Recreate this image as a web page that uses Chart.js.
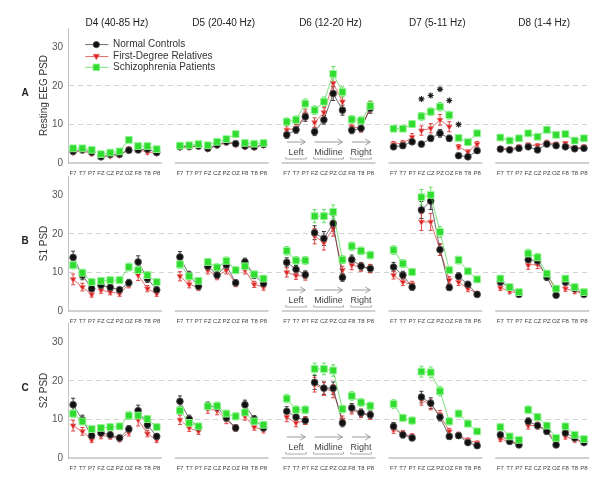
<!DOCTYPE html>
<html>
<head>
<meta charset="utf-8">
<script src="https://cdn.jsdelivr.net/npm/chart.js@4.4.1/dist/chart.umd.min.js"></script>
<style>
  body { margin: 0; background: #fff; }
  #wrap { position: relative; width: 600px; height: 493px; overflow: hidden; }
  .row { position: absolute; left: 0; width: 600px; height: 185px; }
</style>
</head>
<body>
<div id="wrap">
  <div class="row" style="top:0px"><canvas id="rowA" width="600" height="185"></canvas></div>
  <div class="row" style="top:148px"><canvas id="rowB" width="600" height="185"></canvas></div>
  <div class="row" style="top:295px"><canvas id="rowC" width="600" height="185"></canvas></div>
</div>
<script>
'use strict';

// ***** GLOBALS ******
const electrodes = ['F7', 'T7', 'P7', 'FZ', 'CZ', 'PZ', 'OZ', 'F8', 'T8', 'P8'];
const bands = ['D4 (40-85 Hz)', 'D5 (20-40 Hz)', 'D6 (12-20 Hz)', 'D7 (5-11 Hz)', 'D8 (1-4 Hz)'];
const regions = ['Left', 'Midline', 'Right'];
const regionRanges = [[0, 2], [3, 6], [7, 9]];
const groupNames = ['Normal Controls', 'First-Degree Relatives', 'Schizophrenia Patients'];
const yTicks = [0, 10, 20, 30];
const dashedLines = [10, 20];

// values go D4, D5, D6, D7, D8 and each band F7 ... P8
const restControls = [
  3.0, 3.4, 2.8, 1.6, 2.2, 2.3, 3.3, 3.4, 3.6, 2.7,
  4.2, 4.3, 4.4, 3.8, 4.7, 5.5, 5.0, 4.4, 4.2, 4.8,
  7.3, 8.6, 12.0, 8.1, 11.2, 18.0, 13.7, 8.5, 9.0, 14.2,
  4.2, 4.5, 5.5, 4.9, 6.4, 7.7, 6.4, 1.9, 1.6, 3.2,
  3.6, 3.4, 3.8, 4.2, 3.4, 4.9, 4.5, 4.2, 3.7, 3.8
];
const restRelatives = [
  2.7, 3.2, 2.4, 1.6, 1.8, 2.0, 3.6, 3.5, 2.8, 2.5,
  4.0, 4.1, 4.3, 3.6, 4.5, 5.3, 4.8, 4.2, 4.0, 4.6,
  8.6, 9.0, 12.5, 10.5, 13.1, 20.7, 15.9, 9.4, 9.0, 14.6,
  4.9, 5.1, 6.7, 8.4, 9.0, 11.2, 9.4, 4.2, 2.9, 4.9,
  3.8, 3.6, 4.2, 4.7, 4.5, 5.3, 4.9, 5.1, 3.8, 4.2
];
const restPatients = [
  3.8, 3.8, 3.4, 2.3, 2.7, 3.0, 6.0, 4.4, 4.4, 3.6,
  4.5, 4.6, 4.9, 4.6, 5.5, 6.2, 7.5, 5.2, 5.0, 5.2,
  10.7, 11.2, 15.4, 13.7, 15.9, 23.1, 18.4, 11.3, 11.0, 14.8,
  8.9, 8.9, 10.1, 12.1, 13.3, 14.6, 12.4, 6.5, 5.4, 7.7,
  6.6, 5.8, 6.4, 7.7, 6.8, 8.6, 7.3, 7.5, 5.8, 6.4
];
// asterisks over D7 FZ, CZ, PZ, OZ, F8
const restStarBand = 3;
const restStarElectrodes = [3, 4, 5, 6, 7];
const restStars = [16.6, 17.5, 19.1, 16.2, 10.0];

const s1Controls = [
  13.9, 9.3, 5.8, 6.7, 6.1, 5.5, 7.3, 12.7, 8.4, 5.5,
  14.0, 9.3, 6.4, 11.6, 9.3, 11.9, 7.3, 12.7, 9.3, 7.1,
  12.6, 10.8, 9.4, 20.3, 18.8, 22.7, 8.7, 13.3, 11.6, 11.0,
  11.4, 9.3, 6.2, 26.2, 28.5, 15.9, 6.1, 9.0, 6.9, 4.3,
  7.5, 6.1, 4.3, 13.3, 13.0, 8.8, 4.1, 7.5, 5.8, 4.3
];
const s1Relatives = [
  8.2, 6.2, 4.3, 5.4, 4.9, 4.5, 6.9, 9.3, 5.8, 4.5,
  9.0, 6.9, 6.1, 10.6, 9.0, 10.6, 7.1, 10.6, 6.9, 6.2,
  10.0, 9.2, 9.0, 19.4, 17.7, 21.4, 10.6, 11.9, 11.4, 11.0,
  9.3, 7.5, 6.9, 23.1, 23.1, 15.9, 8.0, 7.5, 5.8, 4.5,
  6.0, 5.1, 4.5, 11.9, 12.1, 9.3, 5.6, 5.8, 5.1, 4.5
];
const s1Patients = [
  11.9, 9.9, 7.5, 7.8, 8.0, 8.0, 11.4, 10.6, 9.3, 7.5,
  12.1, 9.0, 7.8, 12.7, 11.3, 13.0, 10.6, 11.6, 9.5, 8.4,
  15.6, 13.1, 13.1, 24.6, 24.6, 25.7, 13.3, 16.8, 15.6, 14.5,
  15.8, 12.3, 10.1, 29.5, 30.1, 20.5, 10.6, 13.2, 10.3, 8.2,
  8.4, 6.2, 4.9, 14.9, 13.9, 9.7, 5.8, 8.4, 6.2, 4.9
];

const s2Controls = [
  13.8, 9.9, 5.8, 6.5, 6.0, 5.2, 7.5, 12.3, 8.6, 5.6,
  14.7, 10.1, 8.0, 13.5, 13.2, 10.4, 7.8, 13.8, 10.1, 7.8,
  12.1, 10.6, 9.7, 19.6, 18.1, 18.1, 9.1, 13.0, 11.7, 11.2,
  8.2, 6.0, 5.2, 15.8, 14.2, 10.6, 5.6, 5.8, 4.0, 3.2,
  6.0, 4.3, 3.4, 9.5, 8.4, 6.9, 3.4, 6.5, 5.2, 4.0
];
const s2Relatives = [
  8.4, 6.9, 4.7, 5.8, 5.6, 4.9, 6.6, 9.9, 6.3, 4.7,
  9.9, 7.8, 6.9, 12.7, 12.3, 9.9, 7.8, 10.8, 8.0, 7.3,
  10.6, 9.1, 9.7, 19.0, 17.9, 17.3, 9.9, 12.5, 11.5, 11.0,
  7.3, 6.3, 5.6, 15.1, 13.8, 11.2, 6.9, 6.0, 4.6, 3.9,
  4.9, 4.3, 3.7, 8.4, 8.4, 7.3, 4.0, 5.6, 4.7, 4.0
];
const s2Patients = [
  11.5, 9.5, 7.5, 7.8, 8.0, 8.2, 11.0, 11.0, 10.1, 8.0,
  12.3, 9.1, 8.2, 13.4, 13.5, 11.5, 10.8, 11.8, 9.5, 8.6,
  15.4, 12.5, 12.5, 23.1, 23.1, 22.7, 12.7, 16.1, 14.4, 13.5,
  14.0, 10.4, 9.7, 22.4, 22.2, 17.3, 9.5, 11.5, 8.9, 6.9,
  8.0, 5.6, 4.7, 12.5, 10.6, 8.4, 5.2, 8.2, 6.0, 4.9
];

// standard errors, same order
const restControlsErr = [
  0.6, 0.5, 0.5, 0.4, 0.5, 0.5, 0.6, 0.6, 0.9, 0.5,
  0.5, 0.5, 0.5, 0.5, 0.5, 0.6, 0.6, 0.5, 0.5, 0.5,
  0.9, 0.9, 1.2, 1.0, 1.1, 1.8, 1.3, 0.9, 0.9, 1.3,
  0.6, 0.6, 0.7, 0.7, 0.8, 1.0, 0.8, 0.4, 0.4, 0.5,
  0.5, 0.5, 0.5, 0.5, 0.5, 0.6, 0.5, 0.5, 0.5, 0.5
];
const restRelativesErr = [
  0.5, 0.5, 0.5, 0.4, 0.4, 0.5, 0.6, 0.6, 0.5, 0.5,
  0.5, 0.5, 0.5, 0.5, 0.5, 0.6, 0.6, 0.5, 0.5, 0.5,
  1.0, 1.0, 1.3, 1.2, 1.3, 2.0, 1.5, 1.0, 1.0, 1.4,
  0.7, 0.7, 0.9, 1.2, 1.2, 1.4, 1.3, 0.6, 0.5, 0.7,
  0.5, 0.5, 0.5, 0.5, 0.5, 0.6, 0.5, 0.5, 0.5, 0.5
];
const restPatientsErr = [
  0.5, 0.5, 0.5, 0.4, 0.4, 0.5, 0.7, 0.6, 0.6, 0.5,
  0.5, 0.5, 0.5, 0.5, 0.6, 0.6, 0.7, 0.5, 0.5, 0.5,
  1.0, 1.0, 1.2, 1.1, 1.2, 1.9, 1.3, 1.0, 1.0, 1.3,
  0.8, 0.8, 0.9, 1.0, 1.0, 1.1, 1.0, 0.7, 0.6, 0.8,
  0.6, 0.6, 0.6, 0.7, 0.6, 0.7, 0.6, 0.6, 0.6, 0.6
];
const s1ControlsErr = [
  1.6, 1.2, 0.8, 0.8, 0.8, 0.7, 0.9, 1.6, 1.0, 0.7,
  1.4, 1.0, 0.8, 1.0, 0.9, 1.0, 0.8, 1.0, 0.9, 0.8,
  1.2, 1.0, 1.0, 1.8, 1.8, 2.0, 1.0, 1.2, 1.0, 1.0,
  1.2, 1.0, 0.8, 2.2, 2.2, 1.5, 0.8, 0.9, 0.8, 0.6,
  0.8, 0.7, 0.6, 1.2, 1.2, 0.9, 0.6, 0.8, 0.7, 0.6
];
const s1RelativesErr = [
  1.4, 1.0, 0.7, 0.8, 0.7, 0.7, 0.9, 1.4, 0.8, 0.7,
  1.2, 0.9, 0.8, 1.0, 0.9, 1.0, 0.8, 1.0, 0.8, 0.8,
  1.2, 1.0, 1.0, 2.0, 1.9, 2.0, 1.0, 1.2, 1.1, 1.1,
  1.0, 0.9, 0.8, 2.2, 2.2, 1.5, 0.9, 0.9, 0.8, 0.6,
  0.7, 0.6, 0.6, 1.1, 1.1, 0.9, 0.6, 0.7, 0.6, 0.6
];
const s1PatientsErr = [
  1.0, 0.9, 0.8, 0.8, 0.8, 0.8, 1.0, 0.9, 0.8, 0.7,
  1.0, 0.8, 0.8, 0.9, 0.9, 1.0, 0.9, 0.9, 0.8, 0.8,
  1.1, 1.0, 1.0, 1.7, 1.7, 1.8, 1.0, 1.1, 1.0, 1.0,
  1.1, 1.0, 0.9, 2.0, 2.0, 1.4, 0.9, 1.0, 0.8, 0.8,
  0.8, 0.7, 0.6, 1.1, 1.0, 0.8, 0.6, 0.8, 0.7, 0.6
];
const s2ControlsErr = [
  1.7, 1.2, 0.8, 0.8, 0.8, 0.7, 0.9, 1.4, 1.0, 0.7,
  1.4, 1.0, 0.8, 1.0, 1.0, 0.9, 0.8, 1.2, 0.9, 0.8,
  1.2, 1.0, 1.0, 1.8, 1.6, 1.6, 1.0, 1.1, 1.0, 1.0,
  1.0, 0.8, 0.7, 1.5, 1.4, 1.0, 0.7, 0.7, 0.6, 0.5,
  0.7, 0.6, 0.5, 0.9, 0.8, 0.7, 0.5, 0.7, 0.6, 0.5
];
const s2RelativesErr = [
  1.4, 1.0, 0.7, 0.8, 0.7, 0.7, 0.9, 1.6, 0.8, 0.7,
  1.2, 0.9, 0.8, 1.1, 1.1, 1.0, 0.8, 1.0, 0.8, 0.8,
  1.2, 1.0, 1.0, 1.9, 1.7, 1.7, 1.0, 1.1, 1.0, 1.0,
  0.9, 0.8, 0.7, 1.4, 1.3, 1.1, 0.8, 0.7, 0.6, 0.5,
  0.6, 0.6, 0.5, 0.9, 0.9, 0.8, 0.5, 0.7, 0.6, 0.5
];
const s2PatientsErr = [
  1.0, 0.9, 0.8, 0.8, 0.8, 0.8, 1.0, 1.0, 0.9, 0.8,
  1.0, 0.8, 0.8, 1.0, 1.0, 0.9, 0.9, 0.9, 0.8, 0.8,
  1.1, 1.0, 1.0, 1.5, 1.5, 1.5, 1.0, 1.1, 1.0, 1.0,
  1.1, 0.9, 0.9, 1.4, 1.4, 1.2, 0.9, 0.9, 0.8, 0.7,
  0.8, 0.6, 0.6, 1.0, 0.9, 0.8, 0.6, 0.8, 0.7, 0.6
];

// **** LAYOUT ****
const panelStep = 11.5;   // x units from one band panel to the next
const xMin = -0.55;
const xMax = 4 * panelStep + 9 + 0.65;

const fontFamily = '"Liberation Sans", Arial, Helvetica, sans-serif';

const seriesStyles = [
  { line: 'rgba(40,40,40,0.75)', fill: '#111111', edge: 'rgba(90,90,90,0.8)', err: '#333333', shape: 'circle', radius: 3.4, rotation: 0, order: 1 },
  { line: 'rgba(215,40,40,0.75)', fill: '#d92020', edge: 'rgba(240,120,120,0.8)', err: '#e04040', shape: 'triangle', radius: 3.3, rotation: 180, order: 2 },
  { line: 'rgba(60,210,60,0.75)', fill: '#2fdc2f', edge: 'rgba(150,245,150,0.9)', err: '#66e066', shape: 'rect', radius: 4.8, rotation: 0, order: 0 }
];

// **** HELPER FUNCTIONS ****

function xOf(band, electrode) {
  return band * panelStep + electrode;
}

// split lines between Left / Midline / Right and between panels
function buildPoints(values) {
  let points = [];
  for (let g = 0; g < bands.length; g++) {
    for (let i = 0; i < electrodes.length; i++) {
      if (i === 3 || i === 7) {
        points.push({ x: xOf(g, i) - 0.5, y: null });
      }
      points.push({ x: xOf(g, i), y: values[g * electrodes.length + i] });
    }
    points.push({ x: xOf(g, 10), y: null });
  }
  return points;
}

function tickPositions() {
  let ticks = [];
  for (let g = 0; g < bands.length; g++) {
    for (let i = 0; i < electrodes.length; i++) {
      ticks.push({ value: xOf(g, i) });
    }
  }
  return ticks;
}

function makeDataset(k, values, errors) {
  let s = seriesStyles[k];
  return {
    label: groupNames[k],
    data: buildPoints(values),
    errorValues: errors,
    rawValues: values,
    borderColor: s.line,
    borderWidth: 0.9,
    pointStyle: s.shape,
    pointRadius: s.radius,
    pointRotation: s.rotation,
    pointBackgroundColor: s.fill,
    pointBorderColor: s.edge,
    pointBorderWidth: 1,
    errColor: s.err,
    spanGaps: false,
    order: s.order
  };
}

// **** PLUGINS ****

const errorBarPlugin = {
  id: 'errorBars',
  beforeDatasetsDraw(chart) {
    let ctx = chart.ctx;
    let xs = chart.scales.x;
    let ys = chart.scales.y;
    chart.data.datasets.forEach(ds => {
      if (!ds.errorValues) return;
      ctx.save();
      ctx.strokeStyle = ds.errColor;
      ctx.lineWidth = 1;
      for (let g = 0; g < bands.length; g++) {
        for (let i = 0; i < electrodes.length; i++) {
          let idx = g * electrodes.length + i;
          let v = ds.rawValues[idx];
          let e = ds.errorValues[idx];
          let px = xs.getPixelForValue(xOf(g, i));
          let top = ys.getPixelForValue(v + e);
          let bot = ys.getPixelForValue(v - e);
          ctx.beginPath();
          ctx.moveTo(px, top);
          ctx.lineTo(px, bot);
          ctx.moveTo(px - 2, top);
          ctx.lineTo(px + 2, top);
          ctx.moveTo(px - 2, bot);
          ctx.lineTo(px + 2, bot);
          ctx.stroke();
        }
      }
      ctx.restore();
    });
  }
};

const panelPlugin = {
  id: 'panels',
  beforeDatasetsDraw(chart, args, opts) {
    let ctx = chart.ctx;
    let xs = chart.scales.x;
    let ys = chart.scales.y;
    let y0 = ys.getPixelForValue(0);

    ctx.save();
    // axis base line under every band
    ctx.strokeStyle = '#c0c0c0';
    ctx.lineWidth = 1.3;
    for (let g = 0; g < bands.length; g++) {
      ctx.beginPath();
      ctx.moveTo(xs.getPixelForValue(xOf(g, 0) - 0.55), y0);
      ctx.lineTo(xs.getPixelForValue(xOf(g, 9) + 0.55), y0);
      ctx.stroke();
    }

    // Left / Midline / Right under D6
    for (let r = 0; r < regions.length; r++) {
      let x1 = xs.getPixelForValue(xOf(2, regionRanges[r][0]));
      let x2 = xs.getPixelForValue(xOf(2, regionRanges[r][1]));
      let ya = y0 - 21;
      ctx.strokeStyle = '#9a9a9a';
      ctx.lineWidth = 1;
      ctx.beginPath();
      ctx.moveTo(x1, ya);
      ctx.lineTo(x2, ya);
      ctx.moveTo(x2 - 5, ya - 3);
      ctx.lineTo(x2, ya);
      ctx.lineTo(x2 - 5, ya + 3);
      ctx.stroke();

      ctx.fillStyle = '#444';
      ctx.font = '9px ' + fontFamily;
      ctx.textAlign = 'center';
      ctx.textBaseline = 'middle';
      ctx.fillText(regions[r], (x1 + x2) / 2, y0 - 10);

      let yb = y0 - 4;
      ctx.strokeStyle = '#aaaaaa';
      ctx.beginPath();
      ctx.moveTo(x1 - 1, yb - 2);
      ctx.lineTo(x1 - 1, yb);
      ctx.lineTo(x2 + 1, yb);
      ctx.lineTo(x2 + 1, yb - 2);
      ctx.stroke();
    }

    // row letter
    ctx.fillStyle = '#222';
    ctx.font = 'bold 10px ' + fontFamily;
    ctx.textAlign = 'center';
    ctx.textBaseline = 'middle';
    ctx.fillText(opts.letter, 25, ys.getPixelForValue(18.2));

    // band titles (top row only)
    if (opts.titles) {
      ctx.fillStyle = '#222';
      ctx.font = '10px ' + fontFamily;
      for (let g = 0; g < bands.length; g++) {
        let cx = (xs.getPixelForValue(xOf(g, 0)) + xs.getPixelForValue(xOf(g, 9))) / 2;
        ctx.fillText(bands[g], cx + 2, chart.chartArea.top - 5);
      }
    }
    ctx.restore();
  },
  afterDatasetsDraw(chart, args, opts) {
    if (!opts.legend) return;
    let ctx = chart.ctx;
    let xs = chart.scales.x;
    let ys = chart.scales.y;
    let legendY = [30.7, 27.6, 24.8];
    ctx.save();
    for (let k = 0; k < groupNames.length; k++) {
      let s = seriesStyles[k];
      let y = ys.getPixelForValue(legendY[k]);
      let xa = xs.getPixelForValue(1.3);
      let xb = xs.getPixelForValue(3.8);
      let xm = xs.getPixelForValue(2.5);
      ctx.strokeStyle = s.line;
      ctx.lineWidth = 0.9;
      ctx.beginPath();
      ctx.moveTo(xa, y);
      ctx.lineTo(xb, y);
      ctx.stroke();
      ctx.fillStyle = s.fill;
      ctx.strokeStyle = s.edge;
      ctx.beginPath();
      if (s.shape === 'circle') {
        ctx.arc(xm, y, 3.2, 0, Math.PI * 2);
      } else if (s.shape === 'triangle') {
        ctx.moveTo(xm - 3.3, y - 2.2);
        ctx.lineTo(xm + 3.3, y - 2.2);
        ctx.lineTo(xm, y + 3.2);
        ctx.closePath();
      } else {
        ctx.rect(xm - 3.3, y - 3.3, 6.6, 6.6);
      }
      ctx.fill();
      ctx.stroke();

      ctx.fillStyle = '#333';
      ctx.font = '10px ' + fontFamily;
      ctx.textAlign = 'left';
      ctx.textBaseline = 'middle';
      ctx.fillText(groupNames[k], xs.getPixelForValue(4.3), y);
    }
    ctx.restore();
  }
};

// **** CHART BUILDER ****

function renderRow(canvasId, title, letter, seriesValues, seriesErrors, extra) {
  let ctx = document.getElementById(canvasId).getContext('2d');

  let datasets = [];
  for (let k = 0; k < 3; k++) {
    datasets.push(makeDataset(k, seriesValues[k], seriesErrors[k]));
  }
  if (extra.stars) {
    datasets.push({
      label: 'p < .05',
      data: extra.stars.map((v, j) => ({ x: xOf(restStarBand, restStarElectrodes[j]), y: v })),
      showLine: false,
      pointStyle: 'star',
      pointRadius: 3,
      pointBorderColor: '#222',
      pointBackgroundColor: '#222',
      pointBorderWidth: 1.2,
      order: 0
    });
  }

  let chartObject = {
    type: 'line',
    data: { datasets: datasets },
    options: {
      responsive: false,
      animation: false,
      events: [],
      layout: { padding: { left: 0, right: 10, top: 28, bottom: 0 } },
      plugins: {
        legend: { display: false },
        tooltip: { enabled: false },
        panels: { letter: letter, titles: extra.titles, legend: extra.legend }
      },
      scales: {
        x: {
          type: 'linear',
          min: xMin,
          max: xMax,
          afterFit: scale => { scale.height = 22; },
          afterBuildTicks: scale => { scale.ticks = tickPositions(); },
          grid: { display: false },
          border: { display: false },
          ticks: {
            autoSkip: false,
            maxRotation: 0,
            padding: -1,
            color: '#444',
            font: { size: 6, family: fontFamily },
            callback: (value, index) => electrodes[index % electrodes.length]
          }
        },
        y: {
          min: 0,
          max: 35,
          afterFit: scale => { scale.width = 68; },
          afterBuildTicks: scale => { scale.ticks = yTicks.map(v => ({ value: v })); },
          grid: {
            drawTicks: false,
            lineWidth: 1,
            color: c => (c.tick && dashedLines.includes(c.tick.value)) ? '#d2d2d2' : 'rgba(0,0,0,0)'
          },
          border: { display: true, color: '#c4c4c4', width: 1, dash: [5, 4] },
          ticks: {
            padding: 5,
            color: '#555',
            font: { size: 10, family: fontFamily }
          },
          title: {
            display: true,
            text: title,
            color: '#333',
            font: { size: 10, family: fontFamily },
            padding: { top: 38, bottom: 0 }
          }
        }
      }
    },
    plugins: [errorBarPlugin, panelPlugin]
  };
  new Chart(ctx, chartObject);
}

// **** EXECUTABLE CODE *****
renderRow('rowA', 'Resting EEG PSD', 'A',
  [restControls, restRelatives, restPatients],
  [restControlsErr, restRelativesErr, restPatientsErr],
  { titles: true, legend: true, stars: restStars });

renderRow('rowB', 'S1 PSD', 'B',
  [s1Controls, s1Relatives, s1Patients],
  [s1ControlsErr, s1RelativesErr, s1PatientsErr],
  { titles: false, legend: false });

renderRow('rowC', 'S2 PSD', 'C',
  [s2Controls, s2Relatives, s2Patients],
  [s2ControlsErr, s2RelativesErr, s2PatientsErr],
  { titles: false, legend: false });
</script>
</body>
</html>
